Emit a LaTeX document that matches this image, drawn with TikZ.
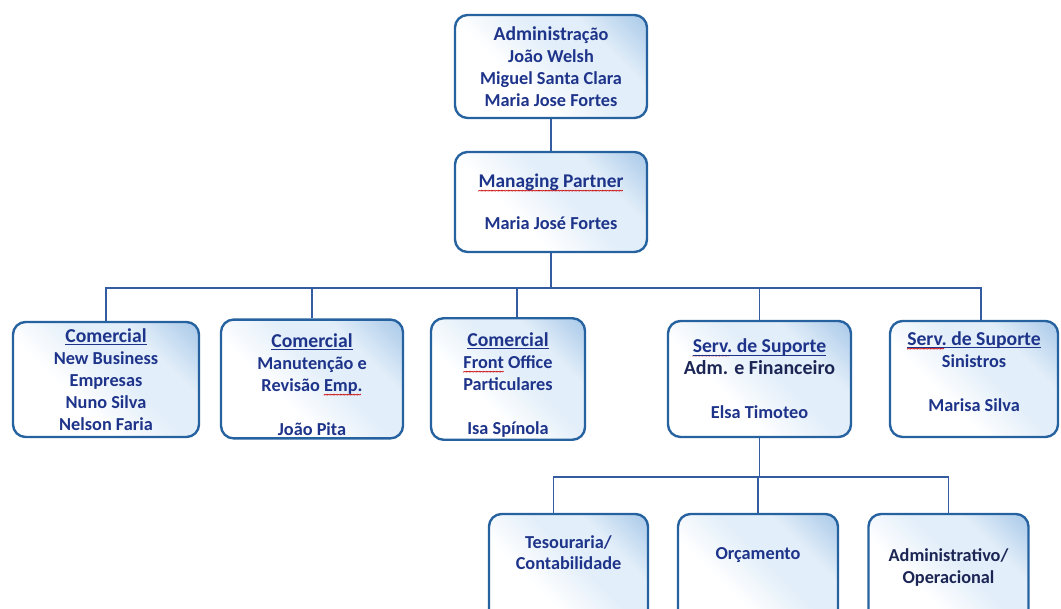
\documentclass[tikz,border=0pt]{standalone}
\usepackage{fontspec}
\setmainfont{Carlito}
\usepackage{xcolor}
\usepackage{tikz}
\usetikzlibrary{positioning,calc}

\definecolor{boxline}{RGB}{38,98,160}
\definecolor{wireblue}{RGB}{52,92,160}
\definecolor{txtblue}{RGB}{30,52,138}
\definecolor{txtdark}{RGB}{28,38,85}
\definecolor{cornerblue}{RGB}{118,168,218}
\definecolor{palebox}{RGB}{226,238,249}

\pgfdeclareverticalshading{orgshade}{100bp}{color(0bp)=(white); color(38bp)=(white); color(55bp)=(palebox); color(68bp)=(palebox); color(100bp)=(cornerblue)}

% red spell-check squiggle under a word
\newcommand{\spellmark}[1]{\setbox0=\hbox{#1}\rlap{\lower4.2pt\hbox to\wd0{\color{red!80!black}\fontsize{6}{6}\selectfont\leaders\hbox{\kern-0.3pt\char"7E\kern-0.3pt}\hfill}}\box0\relax}
\newcommand{\headline}[1]{\underline{\raisebox{0pt}[\height][0pt]{#1}}}

\tikzset{
  orgbox/.style={draw=boxline, line width=1.7pt, rounded corners=9pt, shading=orgshade, shading angle=-45,
    align=center, text=txtblue, font=\fontsize{13}{15.6}\selectfont\bfseries, inner sep=2pt},
  wire/.style={draw=wireblue, line width=0.8pt}
}

\begin{document}
\begin{tikzpicture}[x=0.025cm, y=-0.025cm]
    \useasboundingbox (0,0) rectangle (1061,609);
    \clip (0,0) rectangle (1061,609);

    % Top of the chart
    \node[orgbox, minimum width=4.8cm, minimum height=2.575cm] (admin) at (551,66.5)
        {{\fontsize{14}{15.6}\selectfont Administ}ração\\João Welsh\\Miguel Santa Clara\\Maria Jose Fortes};
    \node[orgbox, minimum width=4.8cm, minimum height=2.5cm] (mp) at (551,202)
        {\spellmark{\fontsize{13.8}{15.6}\selectfont Managing Partner}\\[14pt]Maria José Fortes};

    % Second level
    \node[orgbox, minimum width=4.65cm, minimum height=2.875cm] (com1) at (106,379.5)
        {\headline{\fontsize{14}{15.6}\selectfont Comercial}\\New Business\\Empresas\\Nuno Silva\\Nelson Faria};
    \node[orgbox, minimum width=4.55cm, minimum height=2.9cm] (com2) at (312,379)
        {\rule{0pt}{18pt}\headline{\fontsize{14}{15.6}\selectfont Comercial}\\Manutenção e\\Revisão \spellmark{Emp.}\\ \\João Pita};
    \node[orgbox, minimum width=3.85cm, minimum height=2.9cm] (com3) at (508,379)
        {\rule{0pt}{18pt}\headline{\fontsize{14}{15.6}\selectfont Comercial}\\\spellmark{Front} Office\\Particulares\\ \\Isa Spínola};
    \node[orgbox, minimum width=4.575cm, minimum height=2.9cm] (sup1) at (759.5,379)
        {\headline{\fontsize{14}{15.6}\selectfont\spellmark{Serv.} de Suporte}\\
         {\color{txtdark}\fontsize{14.2}{15.6}\selectfont Adm. e Financeiro}\\ \\Elsa Timoteo};
    \node[orgbox, minimum width=4.2cm, minimum height=2.9cm] (sup2) at (974,379)
        {\headline{\fontsize{14}{15.6}\selectfont\spellmark{Serv.} de Suporte}\\Sinistros\\ \\Marisa Silva\\[-5pt]\mbox{}};

    % Third level (cut by the page edge)
    \node[orgbox, minimum width=3.975cm, minimum height=2.9cm] (tes) at (568.5,572)
        {Tesouraria/\\Contabilidade\\[12pt]\rule{0pt}{12pt}};
    \node[orgbox, minimum width=4.0cm, minimum height=2.9cm] (orc) at (758,572)
        {Orçamento\\[10pt]\rule{0pt}{12pt}};
    \node[orgbox, minimum width=4.0cm, minimum height=2.9cm, text=txtdark] (admop) at (948.5,572)
        {Administrativo/\\Operacional\\[-7pt]\rule{0pt}{12pt}};

    % Connectors
    \coordinate (bus) at (0,288);
    \coordinate (bus2) at (0,477);
    \draw[wire] (admin.south) -- (mp.north);
    \draw[wire] (mp.south) -- (mp.south |- bus);
    \draw[wire] (com1.north) |- ([xshift=7*0.025cm]sup2.north |- bus) -- ([xshift=7*0.025cm]sup2.north);
    \draw[wire] (com2.north) -- (com2.north |- bus);
    \draw[wire] ([xshift=9*0.025cm]com3.north) -- ([xshift=9*0.025cm]com3.north |- bus);
    \draw[wire] (sup1.north) -- (sup1.north |- bus);
    \draw[wire] (sup1.south) -- (sup1.south |- bus2);
    \draw[wire] ([xshift=-15*0.025cm]tes.north) |- (admop.north |- bus2) -- (admop.north);
    \draw[wire] (orc.north) -- (orc.north |- bus2);
\end{tikzpicture}
\end{document}
